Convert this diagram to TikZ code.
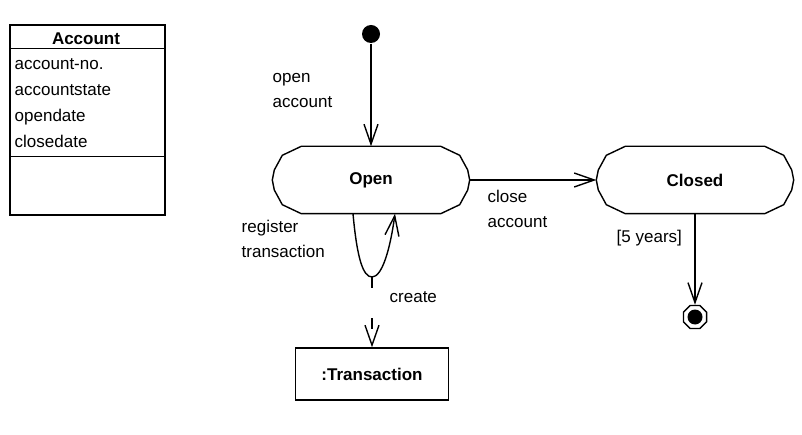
\documentclass[tikz,border=0pt]{standalone}
\usepackage{fontspec}
\setmainfont{Liberation Sans}
\usetikzlibrary{arrows.meta,shapes.geometric}
\tikzset{
  every node/.style={font=\fontsize{17}{25}\selectfont},
  txt/.style={anchor=base west, align=left, inner sep=0pt},
  statebox/.style={minimum width=196pt, minimum height=66pt, inner sep=0pt,
    font=\fontsize{17}{25}\selectfont\bfseries},
  trans/.style={-{Straight Barb[length=20pt,width=14pt]}},
}

\begin{document}
\begin{tikzpicture}[x=1pt,y=-1pt,line width=1.4pt]
\useasboundingbox (0,0) rectangle (802,435);
% class box
\node [draw, minimum width=155pt, minimum height=190pt, inner sep=0pt] (account) at (87.5,120) {};
\draw ([yshift=-24pt]account.north west) -- ([yshift=-24pt]account.north east);
\draw ([yshift=-132pt]account.north west) -- ([yshift=-132pt]account.north east);
\node [anchor=base, inner sep=0pt, font=\fontsize{17}{25}\selectfont\bfseries] (title) at (86,45) {Account};
\foreach \a [count=\i] in {account-no.,accountstate,opendate,closedate}
  \node [txt] (attr\i) at (14,44+26*\i) {\a};
% states
\node [circle, fill, inner sep=0pt, minimum size=18pt] (start) at (371,34) {};
\node [statebox] (open) at (371,180) {Open};
\node [statebox] (closed) at (695,180) {Closed};
\foreach \s in {open,closed}
  \draw ([xshift=29pt]\s.north west) -- ([xshift=10pt,yshift=-9pt]\s.north west)
    -- ([xshift=2pt,yshift=10pt]\s.west) -- (\s.west) -- ([xshift=2pt,yshift=-10pt]\s.west)
    -- ([xshift=10pt,yshift=9pt]\s.south west) -- ([xshift=29pt]\s.south west)
    -- ([xshift=-29pt]\s.south east) -- ([xshift=-10pt,yshift=9pt]\s.south east)
    -- ([xshift=-2pt,yshift=-10pt]\s.east) -- (\s.east) -- ([xshift=-2pt,yshift=10pt]\s.east)
    -- ([xshift=-10pt,yshift=-9pt]\s.north east) -- ([xshift=-29pt]\s.north east) -- cycle;
\node [regular polygon, regular polygon sides=8, draw, minimum size=25pt, inner sep=0pt] (end) at (695,317) {};
\node [circle, fill, inner sep=0pt, minimum size=15pt] (enddot) at (end.center) {};
\node [draw, minimum width=153pt, minimum height=52pt, font=\fontsize{17}{25}\selectfont\bfseries] (trans) at (372,374) {:Transaction};
% transitions
\draw [trans] (start) -- (open.north);
\draw [trans] (open.east) -- (closed.west);
\draw [trans] (closed.south) -- (end.north);
\coordinate (loop) at (372,277);
\draw ([xshift=-18pt]open.south) .. controls (357,258) and (363,277) .. (loop);
\draw [trans] (loop) .. controls (382,277) and (390,250) .. ([xshift=24pt]open.south);
\draw [trans, dash pattern=on 11pt off 30pt] (loop) -- (trans.north);
% labels
\node [txt] (openlbl) at (272,108) {open\\account};
\node [txt] (reglbl) at (241,258) {register\\transaction};
\node [txt] (closelbl) at (487,228) {close\\account};
\node [txt] (createlbl) at (389,302) {create};
\node [txt] (guard) at (616,243) {[5 years]};
\end{tikzpicture}
\end{document}
